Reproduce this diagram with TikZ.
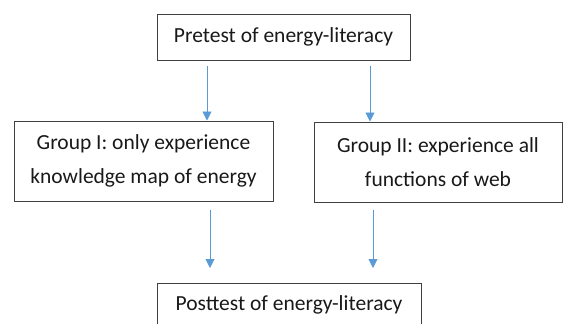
\documentclass[tikz,border=0pt]{standalone}
\usepackage{fontspec}
\setmainfont{Carlito}
\usetikzlibrary{arrows.meta,positioning}

\begin{document}
\begin{tikzpicture}[
  x=1pt, y=-1pt,
  stage/.style={rectangle,draw=black!75,line width=1pt,inner sep=0pt,align=center,
    font=\fontsize{21.5}{34}\selectfont,text=black!90},
  flow/.style={draw={rgb,255:red,91;green,155;blue,213},line width=0.9pt,
    -{Triangle[length=9pt,width=9pt]}}
  ]
  \useasboundingbox (0,0) rectangle (565,324);

% stages
  \node (pretest) [stage,minimum width=253pt,minimum height=46pt] at(283.5,37) {Pretest of energy-literacy};
  \node (group_1) [stage,minimum width=259pt,minimum height=80pt] at(143.5,161) {Group I: only experience\\knowledge map of energy};
  \node (group_2) [stage,minimum width=248pt,minimum height=80pt] at(438,162) {Group II: experience all\\functions of web};
  \node (posttest) [stage,minimum width=264pt,minimum height=44pt] at(289,305) {Posttest of energy-literacy};

% arrows
  \coordinate (top_1) at(207,66);
  \coordinate (top_2) at(370,66);
  \coordinate (low_1) at(210,210);
  \coordinate (low_2) at(373,210);
  \coordinate (end_1) at(210,268);
  \coordinate (end_2) at(373,268);

  \draw[flow] (top_1) -- (top_1 |- group_1.north);
  \draw[flow] (top_2) -- (top_2 |- group_2.north);
  \draw[flow] (low_1) -- (end_1);
  \draw[flow] (low_2) -- (end_2);

\end{tikzpicture}
\end{document}
